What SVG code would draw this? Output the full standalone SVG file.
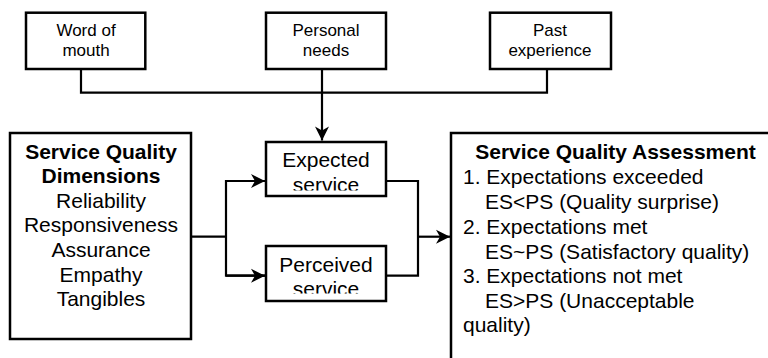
<svg xmlns="http://www.w3.org/2000/svg" width="768" height="358" viewBox="0 0 768 358">
<style>
.box{fill:#fff;stroke:#000;stroke-width:2.5}
.ln{fill:none;stroke:#000;stroke-width:2.2}
text{font-family:"Liberation Sans",Arial,sans-serif;fill:#000}
.s{font-size:17px;text-anchor:middle}
.m{font-size:21px;text-anchor:middle}
.b{font-weight:bold}
.r{font-size:21px}
</style>
<defs>
<marker id="ah" viewBox="-15 -8 16 16" refX="0" refY="0" markerWidth="16" markerHeight="16" markerUnits="userSpaceOnUse" orient="auto">
<path d="M0,0 L-14,-7 L-10,0 L-14,7 Z" fill="#000"/>
</marker>
<clipPath id="cE"><rect x="266" y="142" width="120" height="48.5"/></clipPath>
<clipPath id="cP"><rect x="266" y="246" width="120" height="47.5"/></clipPath>
</defs>
<g id="connectors">
<polyline class="ln" points="81,69 81,92.7 547,92.7 547,69"/>
<line class="ln" x1="322" y1="69" x2="322" y2="92.7"/>
<line class="ln" x1="322" y1="92.7" x2="322" y2="140.5" marker-end="url(#ah)"/>
<line class="ln" x1="191" y1="236.7" x2="226" y2="236.7"/>
<polyline class="ln" points="265,181 226,181 226,275.7 265,275.7"/>
<line class="ln" x1="226" y1="181" x2="265" y2="181" marker-end="url(#ah)"/>
<line class="ln" x1="226" y1="275.7" x2="265" y2="275.7" marker-end="url(#ah)"/>
<polyline class="ln" points="386,181 418,181 418,275.7 386,275.7"/>
<line class="ln" x1="418" y1="236.7" x2="450" y2="236.7" marker-end="url(#ah)"/>
</g>
<g id="word-of-mouth">
<rect class="box" x="26" y="12.7" width="119.3" height="56.3"/>
<text class="s" x="86" y="36">Word of</text>
<text class="s" x="86" y="56">mouth</text>
</g>
<g id="personal-needs">
<rect class="box" x="266" y="12.7" width="120" height="56.3"/>
<text class="s" x="326" y="36">Personal</text>
<text class="s" x="326" y="56">needs</text>
</g>
<g id="past-experience">
<rect class="box" x="490" y="12.7" width="121" height="56.3"/>
<text class="s" x="550" y="36">Past</text>
<text class="s" x="550" y="56">experience</text>
</g>
<g id="dimensions">
<rect class="box" x="10" y="133" width="181" height="206"/>
<text class="m b" x="101" y="158.5">Service Quality</text>
<text class="m b" x="101" y="183">Dimensions</text>
<text class="m" x="101" y="207.7">Reliability</text>
<text class="m" x="101" y="232.3">Responsiveness</text>
<text class="m" x="101" y="257">Assurance</text>
<text class="m" x="101" y="281.5">Empathy</text>
<text class="m" x="101" y="306">Tangibles</text>
</g>
<g id="expected-service">
<rect class="box" x="266" y="142" width="120" height="54"/>
<g clip-path="url(#cE)">
<text class="m" x="326" y="167.3">Expected</text>
<text class="m" x="326" y="191.5">service</text>
</g>
</g>
<g id="perceived-service">
<rect class="box" x="266" y="246" width="120" height="55"/>
<g clip-path="url(#cP)">
<text class="m" x="326" y="271.7">Perceived</text>
<text class="m" x="326" y="296">service</text>
</g>
</g>
<g id="assessment">
<rect class="box" x="451" y="133" width="340" height="240"/>
<text class="m b" x="615.5" y="159">Service Quality Assessment</text>
<text class="r" x="463" y="184">1. Expectations exceeded</text>
<text class="r" x="485" y="209">ES&lt;PS (Quality surprise)</text>
<text class="r" x="463" y="234">2. Expectations met</text>
<text class="r" x="485" y="259">ES~PS (Satisfactory quality)</text>
<text class="r" x="463" y="283">3. Expectations not met</text>
<text class="r" x="485" y="308">ES&gt;PS (Unacceptable</text>
<text class="r" x="463" y="332">quality)</text>
</g>
</svg>
